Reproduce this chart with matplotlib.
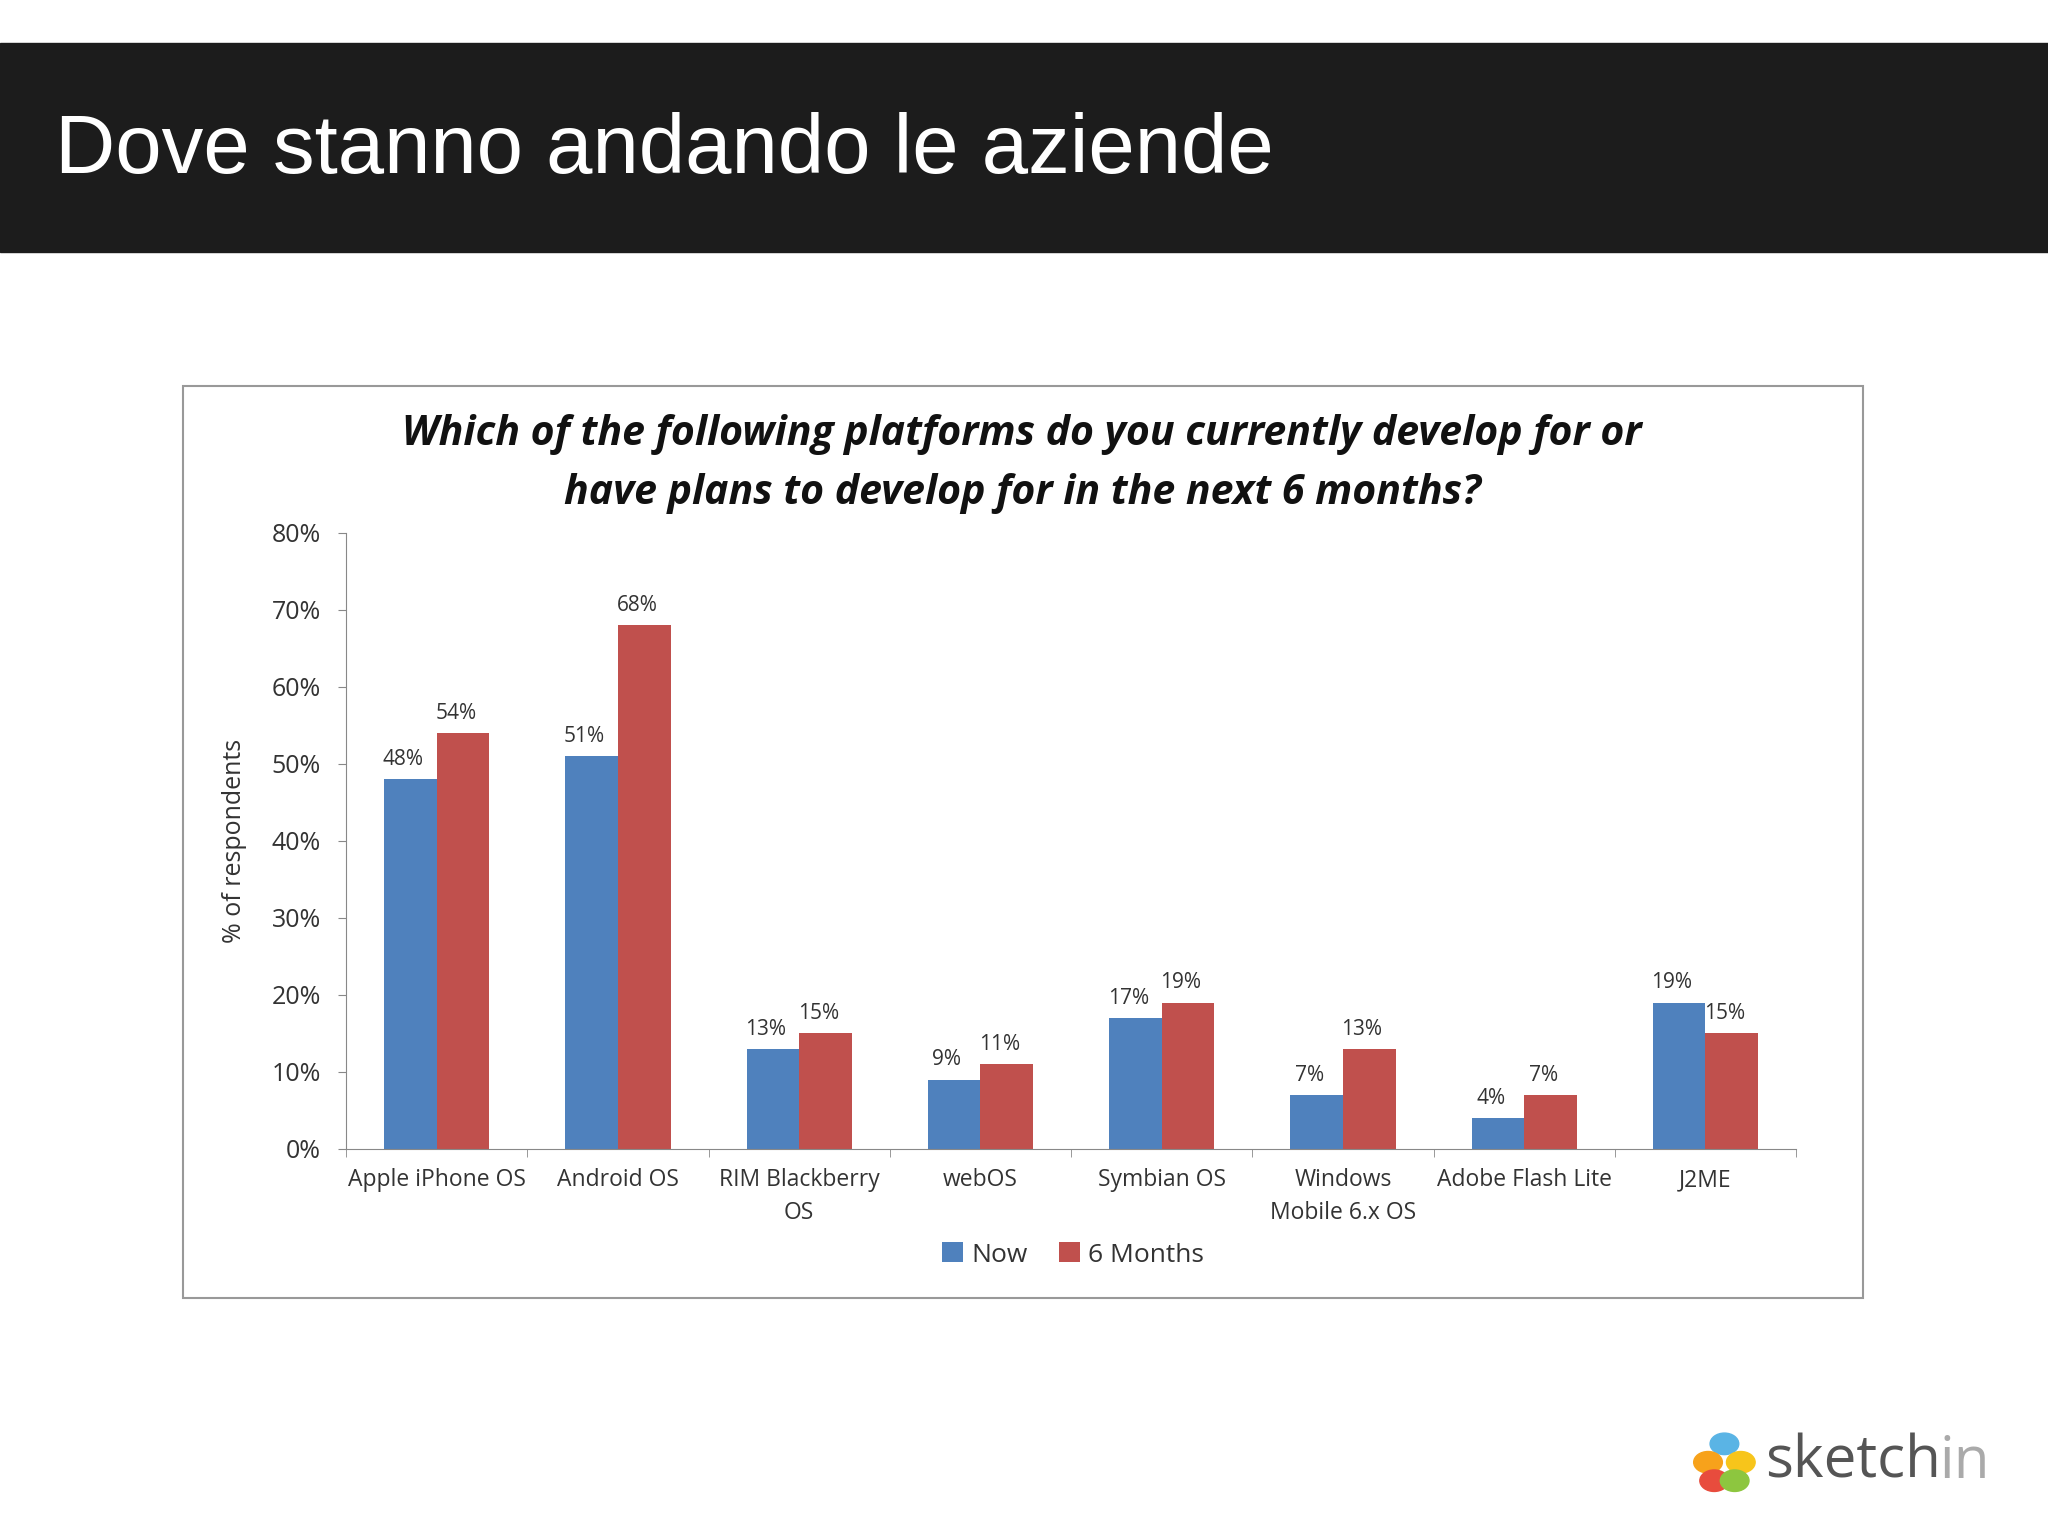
import numpy as np
import matplotlib.pyplot as plt
from matplotlib.patches import Rectangle

categories = ["Apple iPhone OS", "Android OS", "RIM Blackberry\nOS", "webOS",
              "Symbian OS", "Windows\nMobile 6.x OS", "Adobe Flash Lite", "J2ME"]
now = [48, 51, 13, 9, 17, 7, 4, 19]
six_months = [54, 68, 15, 11, 19, 13, 7, 15]

BLUE = "#4F81BD"
RED = "#C0504D"
TXT = "#333333"
plt.rcParams['font.family'] = ['Open Sans', 'DejaVu Sans']

fig = plt.figure(figsize=(20.48, 15.36), dpi=100)
fig.patch.set_facecolor("white")

# header band
fig.add_artist(Rectangle((0, 0.836), 1, 0.136, transform=fig.transFigure,
                         color="#1c1c1c", zorder=0))
fig.text(0.027, 0.902, "Dove stanno andando le aziende", color="white",
         fontsize=60, family="Liberation Sans", va="center")

# chart frame
fig.add_artist(Rectangle((0.0893, 0.155), 0.8202, 0.594, transform=fig.transFigure,
                         facecolor="white", edgecolor="#999999", lw=1.5, zorder=0))
fig.text(0.499, 0.717, "Which of the following platforms do you currently develop for or",
         ha="center", va="center", fontsize=29.5, fontweight="bold", style="italic", color="#111111")
fig.text(0.499, 0.679, "have plans to develop for in the next 6 months?",
         ha="center", va="center", fontsize=29.5, fontweight="bold", style="italic", color="#111111")

ax = fig.add_axes([0.169, 0.252, 0.708, 0.401])
x = np.arange(len(categories))
w = 0.29
b1 = ax.bar(x - w / 2, now, w, color=BLUE, label="Now")
b2 = ax.bar(x + w / 2, six_months, w, color=RED, label="6 Months")
for bars, vals in ((b1, now), (b2, six_months)):
    for r, v in zip(bars, vals):
        ax.text(r.get_x() + r.get_width() / 2 - 0.04, v + 1.2, f"{v}%", ha="center",
                va="bottom", fontsize=15, color=TXT)

ax.set_xlim(-0.5, len(categories) - 0.5)
ax.set_ylim(0, 80)
ax.set_yticks(range(0, 81, 10))
ax.set_yticklabels([f"{t}%" for t in range(0, 81, 10)], fontsize=18, color=TXT)
ax.set_xticks(x)
ax.set_xticklabels(categories, fontsize=16.5, color=TXT, linespacing=1.5)
ax.tick_params(axis="x", length=0, pad=14)
ax.set_xticks(np.arange(-0.5, len(categories)), minor=True)
ax.tick_params(axis="x", which="minor", length=6, color="#888888")
ax.tick_params(axis="y", length=6, color="#888888", pad=12)
for s in ("top", "right"):
    ax.spines[s].set_visible(False)
for s in ("left", "bottom"):
    ax.spines[s].set_color("#888888")
ax.set_ylabel("% of respondents", fontsize=18, color=TXT, labelpad=18)

fig.legend(loc="center", bbox_to_anchor=(0.524, 0.183), ncol=2, frameon=False,
           fontsize=19, handlelength=0.8, handleheight=0.8, handletextpad=0.3,
           columnspacing=1.2, labelcolor=TXT)

# logo
lx, ly = 0.842, 0.048
for dx, dy, c in ((0, 0.012, "#5ab4e5"), (-0.008, 0.0, "#f7a21b"),
                  (0.008, 0.0, "#f7c51b"), (-0.005, -0.012, "#e84c3d"), (0.005, -0.012, "#8dc63f")):
    fig.add_artist(plt.Circle((lx + dx, ly + dy), 0.007, transform=fig.transFigure,
                              color=c, zorder=3))
fig.text(0.862, 0.048, "sketch", fontsize=42, color="#555555", va="center")
fig.text(0.947, 0.048, "in", fontsize=42, color="#aaaaaa", va="center")

fig.savefig("out.png", dpi=100)
